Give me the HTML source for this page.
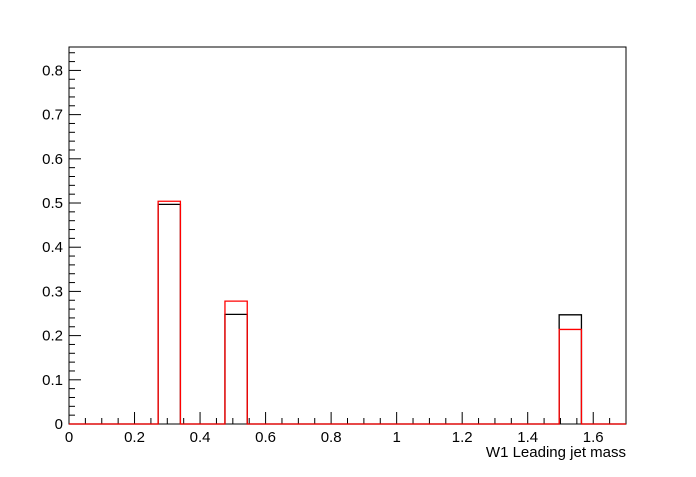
<!DOCTYPE html>
<html><head><meta charset="utf-8"><style>
body{margin:0;background:#fff}
svg text{font-family:"Liberation Sans",Arial,sans-serif;font-size:15px;fill:#000}
</style></head><body>
<svg id="c" width="696" height="472">
<rect width="696" height="472" fill="#fff"/>
<g id="g"></g>
</svg>
<script>
const binEdgesMin = 0, binEdgesMax = 1.7, nBins = 25;
const blackValues = [0,0,0,0,0.497,0,0,0.248,0,0,0,0,0,0,0,0,0,0,0,0,0,0,0.247,0,0];
const redValues   = [0,0,0,0,0.504,0,0,0.278,0,0,0,0,0,0,0,0,0,0,0,0,0,0,0.214,0,0];
const xTickLabels = [0,0.2,0.4,0.6,0.8,1,1.2,1.4,1.6];
const yTickLabels = [0,0.1,0.2,0.3,0.4,0.5,0.6,0.7,0.8];
const yMax = 0.853;
const L=69,R=626,T=47,B=424;
const X=v=>L+(v-binEdgesMin)/(binEdgesMax-binEdgesMin)*(R-L);
const Y=v=>B-v/yMax*(B-T);
const g=document.getElementById('g');
const NS='http://www.w3.org/2000/svg';
function mk(t,a){const e=document.createElementNS(NS,t);for(const k in a)e.setAttribute(k,a[k]);g.appendChild(e);return e;}
const frame=mk('rect',{x:L,y:T,width:R-L,height:B-T,fill:'none',stroke:'#000','stroke-width':1});


for(let v=0;v<=1.7001;v+=0.05){const maj=Math.abs(v/0.2-Math.round(v/0.2))<1e-6;const x=X(v);
 const t=mk('line',{x1:x,x2:x,y1:B,y2:B-(maj?12:6),stroke:'#000'});
 
 }
xTickLabels.forEach(v=>{const t=mk('text',{x:X(v),y:B+18,'text-anchor':'middle'});t.textContent=String(v);
 
 });
for(let v=0;v<=yMax;v+=0.02){const maj=Math.abs(v/0.1-Math.round(v/0.1))<1e-6;const y=Y(v);
 const t=mk('line',{x1:L,x2:L+(maj?12:6),y1:y,y2:y,stroke:'#000'});
 
 }
yTickLabels.forEach(v=>{const t=mk('text',{x:L-6,y:Y(v)+5,'text-anchor':'end'});t.textContent=String(v);
 
 });
function hist(vals,color,name){const w=(binEdgesMax-binEdgesMin)/nBins;let d=`M${X(0)},${Y(0)}`;
 vals.forEach((v,i)=>{d+=` L${X(i*w)},${Y(v)} L${X((i+1)*w)},${Y(v)}`;});
 d+=` L${X(binEdgesMax)},${Y(0)}`;
 const p=mk('path',{d:d,fill:'none',stroke:color,'stroke-width':1.3});
 
 }
hist(blackValues,'#000','black-histogram');
hist(redValues,'#f00','red-histogram');
const xt=mk('text',{x:R,y:457,'text-anchor':'end'});xt.textContent='W1 Leading jet mass';


</script>
</body></html>
